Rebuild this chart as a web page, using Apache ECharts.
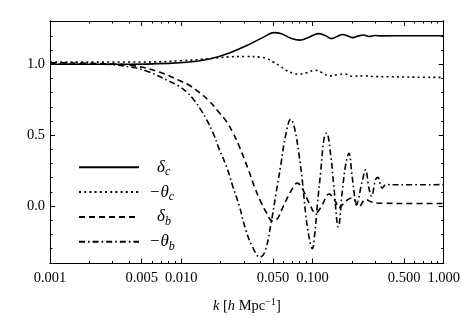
<!DOCTYPE html>
<html><head><meta charset="utf-8">
<script src="https://cdn.jsdelivr.net/npm/echarts@6/dist/echarts.min.js"></script>
<style>html,body{margin:0;padding:0;background:#fff}#c{width:463px;height:319px}</style>
</head><body><div id="c"></div>
<script>
const seriesNames = ['δ_c', '−θ_c', 'δ_b', '−θ_b'];

const kDeltaC = [0.001,0.004,0.008,0.0116,0.0164,0.0233,0.033,0.0431,0.051,0.058,0.068,0.080,0.094,0.111,0.125,0.140,0.155,0.169,0.185,0.203,0.225,0.245,0.27,0.30,0.34,0.5,1.0];
const deltaC  = [1.0,1.0,1.006,1.016,1.037,1.08,1.14,1.195,1.223,1.215,1.185,1.17,1.19,1.216,1.203,1.181,1.197,1.21,1.2,1.188,1.2,1.206,1.196,1.203,1.2,1.201,1.201];

const kThetaC = [0.001,0.005,0.01,0.0164,0.023,0.031,0.04,0.045,0.05,0.056,0.063,0.071,0.079,0.09,0.105,0.118,0.134,0.155,0.176,0.2,0.25,0.3,0.4,0.6,1.0];
const thetaC  = [1.015,1.016,1.025,1.04,1.052,1.055,1.05,1.04,1.018,0.99,0.958,0.937,0.93,0.94,0.958,0.942,0.918,0.927,0.932,0.915,0.918,0.913,0.912,0.909,0.907];

const kDeltaB = [0.001,0.0024,0.0043,0.0068,0.0097,0.0116,0.0138,0.0164,0.019,0.022,0.0247,0.0277,0.033,0.036,0.0404,0.0442,0.0496,0.054,0.058,0.063,0.068,0.0768,0.084,0.0942,0.106,0.112,0.119,0.1337,0.1503,0.159,0.179,0.201,0.226,0.254,0.28,0.31,0.35,0.5,1.0];
const deltaB  = [1.01,1.005,0.99,0.945,0.885,0.85,0.80,0.74,0.67,0.60,0.52,0.42,0.24,0.14,0.03,-0.04,-0.105,-0.09,-0.03,0.04,0.10,0.162,0.12,0.023,-0.05,-0.03,0.011,0.085,0.03,-0.012,0.035,0.058,-0.005,0.046,0.03,0.022,0.02,0.018,0.018];

const kThetaB = [0.001,0.0024,0.0043,0.0057,0.0082,0.0095,0.0109,0.0125,0.0142,0.0155,0.0176,0.0195,0.0223,0.0247,0.0277,0.0312,0.035,0.0398,0.0435,0.0482,0.0528,0.0574,0.0625,0.0684,0.073,0.0791,0.0838,0.0889,0.0942,0.0998,0.104,0.109,0.1156,0.1225,0.128,0.1377,0.1459,0.1574,0.1688,0.1791,0.1897,0.1988,0.207,0.2155,0.2393,0.2539,0.269,0.282,0.3025,0.3148,0.3396,0.3641,0.45,1.0];
const thetaB  = [1.0,1.0,0.977,0.945,0.878,0.848,0.808,0.748,0.675,0.615,0.51,0.40,0.27,0.14,0.0,-0.174,-0.29,-0.36,-0.32,-0.128,0.09,0.29,0.5,0.612,0.55,0.36,0.174,-0.06,-0.22,-0.30,-0.2,0.01,0.244,0.477,0.515,0.36,0.128,-0.147,0.105,0.29,0.372,0.244,0.105,0.01,0.174,0.256,0.128,0.07,0.186,0.202,0.128,0.151,0.15,0.151];

const xMajorTicks = [0.001,0.005,0.01,0.05,0.1,0.5,1];
const xMinorTicks = [0.002,0.003,0.004,0.006,0.007,0.008,0.009,0.02,0.03,0.04,0.06,0.07,0.08,0.09,0.2,0.3,0.4,0.6,0.7,0.8,0.9];
const yMajorTicks = [0, 0.5, 1.0];
const yMinorTicks = [-0.4,-0.3,-0.2,-0.1,0.1,0.2,0.3,0.4,0.6,0.7,0.8,0.9,1.1,1.2,1.3];

const FONT = 'Liberation Serif';
const lg = v => Math.log10(v);
const pairs = (ks, vs) => ks.map((k, i) => [lg(k), vs[i]]);

const xRange = {min: -3, max: 0};
const yRange = {min: -0.405, max: 1.305};

function xAxisDef(pos, ticks, len, labels) {
  return Object.assign({
    type: 'value', position: pos, splitLine: {show: false},
    axisLine: {show: true, onZero: false, lineStyle: {color: '#000', width: 1}},
    axisTick: {show: true, inside: true, length: len, customValues: ticks.map(lg), lineStyle: {color: '#000', width: 1}},
    axisLabel: labels ? {show: true, customValues: xMajorTicks.map(lg), margin: 7,
      formatter: v => Math.pow(10, v).toFixed(3), color: '#000', fontFamily: FONT, fontSize: 14.5} : {show: false}
  }, xRange);
}
function yAxisDef(pos, ticks, len, labels) {
  return Object.assign({
    type: 'value', position: pos, splitLine: {show: false},
    axisLine: {show: true, onZero: false, lineStyle: {color: '#000', width: 1}},
    axisTick: {show: true, inside: true, length: len, customValues: ticks, lineStyle: {color: '#000', width: 1}},
    axisLabel: labels ? {show: true, customValues: yMajorTicks, margin: 5,
      formatter: v => v.toFixed(1), color: '#000', fontFamily: FONT, fontSize: 14.5} : {show: false}
  }, yRange);
}

const xMain = xAxisDef('bottom', xMajorTicks, 5, true);
xMain.name = '{i|k} {n|[}{i|h}{n| Mpc}{sup|−1}{n|]}';
xMain.nameLocation = 'middle';
xMain.nameGap = 34;
xMain.nameTextStyle = {color: '#000', fontFamily: FONT, fontSize: 14.5, rich: {
  i: {fontFamily: FONT, fontStyle: 'italic', fontSize: 14.5, color: '#000', lineHeight: 18},
  n: {fontFamily: FONT, fontSize: 14.5, color: '#000', lineHeight: 18},
  sup: {fontFamily: FONT, fontSize: 10, color: '#000', verticalAlign: 'top', lineHeight: 10}
}};

const styles = [
  {type: 'solid', width: 1.6},
  {type: [2, 3.2], width: 1.6},
  {type: [6, 4], width: 1.6},
  {type: [6, 3, 1.6, 3], width: 1.6}
];
const dataSets = [pairs(kDeltaC, deltaC), pairs(kThetaC, thetaC), pairs(kDeltaB, deltaB), pairs(kThetaB, thetaB)];

const option = {
  animation: false,
  backgroundColor: '#fff',
  grid: {left: 50, right: 18, top: 21, bottom: 53, containLabel: false},
  xAxis: [
    xMain,
    xAxisDef('bottom', xMinorTicks, 2.5, false),
    xAxisDef('top', xMajorTicks, 5, false),
    xAxisDef('top', xMinorTicks, 2.5, false)
  ],
  yAxis: [
    yAxisDef('left', yMajorTicks, 5, true),
    yAxisDef('left', yMinorTicks, 2.5, false),
    yAxisDef('right', yMajorTicks, 5, false),
    yAxisDef('right', yMinorTicks, 2.5, false)
  ],
  legend: {
    orient: 'vertical', left: 73, top: 153.5, itemWidth: 60, itemHeight: 22, itemGap: 5,
    selectedMode: false, data: seriesNames,
    itemStyle: {opacity: 0},
    formatter: name => {
      const [b, s] = name.split('_');
      return (b.length > 1 ? '{m|' : '{d|') + b + '}{s|' + s + '}';
    },
    textStyle: {color: '#000', fontFamily: FONT, rich: {
      m: {fontFamily: FONT, fontStyle: 'italic', fontSize: 17, color: '#000', lineHeight: 22, padding: [0, 0, 0, 5]},
      d: {fontFamily: FONT, fontStyle: 'italic', fontSize: 17, color: '#000', lineHeight: 22, padding: [0, 0, 0, 13]},
      s: {fontFamily: FONT, fontStyle: 'italic', fontSize: 12, color: '#000', lineHeight: 14, verticalAlign: 'bottom'}
    }}
  },
  series: seriesNames.map((n, i) => ({
    type: 'line', name: n, data: dataSets[i], xAxisIndex: 0, yAxisIndex: 0,
    symbol: 'none', showSymbol: false, smooth: 0.4,
    lineStyle: Object.assign({color: '#000', cap: 'butt'}, styles[i]),
    itemStyle: {color: '#000'}
  }))
};

const chart = echarts.init(document.getElementById('c'), null, {renderer: 'canvas'});
chart.setOption(option);
</script>
</body></html>
